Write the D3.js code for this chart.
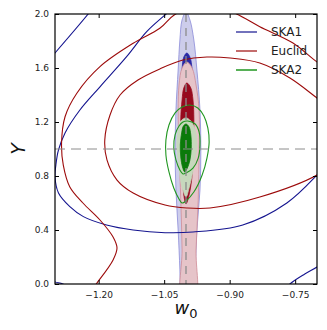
<!DOCTYPE html>
<html>
<head>
<meta charset="utf-8">
<script src="https://cdn.jsdelivr.net/npm/d3@7"></script>
<style>
  body { margin: 0; background: #fff; }
  svg text { font-family: "DejaVu Sans", sans-serif; }
</style>
</head>
<body>
<div id="chart"></div>
<script>
// Axis ticks
var xTicks = [-1.20, -1.05, -0.90, -0.75];
var yTicks = [0.0, 0.4, 0.8, 1.2, 1.6, 2.0];

// Reference lines
var w0Fid = -1.0;
var yFid = 1.0;

// Legend
var legendLabels = ["SKA1", "Euclid", "SKA2"];

// Filled contours, [w0, Y] points
var ska1Outer = [[-1.0, 2.015], [-0.991, 1.956], [-0.982, 1.807], [-0.975, 1.585], [-0.968, 1.289], [-0.966, 0.993],
    [-0.968, 0.696], [-0.975, 0.4], [-0.979, 0.104], [-0.984, -0.119], [-0.998, -0.34], [-1.012, -0.119],
    [-1.014, 0.104], [-1.018, 0.4], [-1.023, 0.696], [-1.025, 0.993], [-1.023, 1.289], [-1.018, 1.585],
    [-1.014, 1.807], [-1.009, 1.956]];
var ska1Inner = [[-0.998, 1.711], [-0.991, 1.681], [-0.986, 1.585], [-0.984, 1.215], [-0.986, 0.77], [-0.995, 0.4],
    [-1.005, 0.77], [-1.009, 1.215], [-1.009, 1.585], [-1.005, 1.681]];
var euclidOuter = [[-0.998, 1.644], [-0.986, 1.6], [-0.977, 1.474], [-0.970, 1.289], [-0.970, 0.993], [-0.972, 0.622],
    [-0.977, 0.252], [-0.979, -0.119], [-1.009, -0.119], [-1.009, 0.252], [-1.012, 0.622], [-1.016, 0.993],
    [-1.018, 1.289], [-1.016, 1.474], [-1.009, 1.6]];
var euclidInner = [[-0.998, 1.489], [-0.989, 1.452], [-0.984, 1.363], [-0.982, 1.215], [-0.984, 0.993], [-0.986, 0.807],
    [-0.993, 0.659], [-1.0, 0.593], [-1.005, 0.659], [-1.007, 0.807], [-1.009, 0.993], [-1.012, 1.215],
    [-1.009, 1.363], [-1.005, 1.452]];
var ska2Outer = [[-1.0, 1.230], [-0.989, 1.207], [-0.979, 1.141], [-0.975, 1.030], [-0.979, 0.919], [-0.986, 0.807],
    [-0.993, 0.711], [-1.0, 0.644], [-1.007, 0.696], [-1.014, 0.8], [-1.018, 0.919], [-1.021, 1.030],
    [-1.018, 1.141], [-1.012, 1.207]];
var ska2Inner = [[-1.0, 1.185], [-0.993, 1.163], [-0.989, 1.104], [-0.988, 1.007], [-0.991, 0.919], [-0.997, 0.859],
    [-1.003, 0.830], [-1.008, 0.867], [-1.012, 0.941], [-1.013, 1.030], [-1.010, 1.119], [-1.006, 1.170]];

// Line contours
var ska1Line1 = [[-1.025, 2.059], [-1.048, 1.993], [-1.09, 1.869], [-1.136, 1.684], [-1.197, 1.461], [-1.243, 1.289],
    [-1.277, 1.119], [-1.292, 0.993], [-1.298, 0.881], [-1.30, 0.795], [-1.292, 0.674], [-1.266, 0.573],
    [-1.235, 0.499], [-1.182, 0.437], [-1.121, 0.40], [-1.048, 0.380], [-0.984, 0.385], [-0.870, 0.437],
    [-0.769, 0.60], [-0.70, 0.807], [-0.670, 0.919]];
var ska1Line2a = [[-1.208, 2.067], [-1.224, 2.0], [-1.30, 1.711], [-1.316, 1.652]];
var ska1Line2b = [[-1.323, 0.044], [-1.30, 0.015], [-1.282, 0.0], [-1.261, -0.044]];
var ska1Line2c = [[-0.785, -0.081], [-0.762, 0.0], [-0.728, 0.074], [-0.70, 0.126], [-0.670, 0.193]];
var euclidLine1 = [[-0.670, 0.881], [-0.70, 0.807], [-0.831, 0.644], [-0.945, 0.563], [-0.998, 0.563], [-1.048, 0.585],
    [-1.121, 0.674], [-1.158, 0.770], [-1.181, 0.919], [-1.186, 1.067], [-1.174, 1.252], [-1.151, 1.4],
    [-1.11, 1.511], [-1.060, 1.593], [-1.007, 1.659], [-0.952, 1.681], [-0.899, 1.674], [-0.831, 1.637],
    [-0.762, 1.526], [-0.70, 1.378], [-0.670, 1.304]];
var euclidLine2 = [[-1.220, -0.059], [-1.204, 0.007], [-1.167, 0.178], [-1.158, 0.267], [-1.167, 0.348], [-1.197, 0.474],
    [-1.236, 0.6], [-1.266, 0.719], [-1.281, 0.881], [-1.285, 1.042], [-1.277, 1.239], [-1.250, 1.413],
    [-1.197, 1.61], [-1.121, 1.783], [-1.060, 1.894], [-1.027, 1.993], [-0.952, 2.089], [-0.884, 2.0],
    [-0.831, 1.906], [-0.755, 1.785], [-0.701, 1.647], [-0.670, 1.585]];
var ska2Line1 = [[-0.996, 1.207], [-0.979, 1.185], [-0.970, 1.126], [-0.968, 1.030], [-0.972, 0.933], [-0.984, 0.859],
    [-1.0, 0.822], [-1.007, 0.815], [-1.014, 0.844], [-1.023, 0.919], [-1.028, 1.007], [-1.025, 1.104],
    [-1.016, 1.170], [-1.007, 1.2]];
var ska2Line2 = [[-0.991, 1.326], [-0.973, 1.304], [-0.959, 1.244], [-0.950, 1.156], [-0.947, 1.052], [-0.952, 0.933],
    [-0.963, 0.807], [-0.982, 0.681], [-1.0, 0.615], [-1.009, 0.6], [-1.016, 0.630], [-1.028, 0.711],
    [-1.039, 0.830], [-1.046, 0.956], [-1.046, 1.067], [-1.039, 1.178], [-1.025, 1.267], [-1.009, 1.311]];

var svgWidth = 327;
var svgHeight = 330;
var margin = { top: 14, right: 10, bottom: 46, left: 55 };
var width = svgWidth - margin.left - margin.right;
var height = svgHeight - margin.top - margin.bottom;

var blue = "#14148f", red = "#9c0a0a", green = "#1f961f";

var svg = d3.select("#chart").append("svg")
    .attr("width", svgWidth)
    .attr("height", svgHeight);

var chartGroup = svg.append("g")
    .attr("transform", `translate(${margin.left}, ${margin.top})`);

var xScale = d3.scaleLinear().domain([-1.3, -0.7]).range([0, width]);
var yScale = d3.scaleLinear().domain([0, 2]).range([height, 0]);

svg.append("defs").append("clipPath").attr("id", "plotclip")
    .append("rect").attr("width", width).attr("height", height);

var plot = chartGroup.append("g").attr("clip-path", "url(#plotclip)");

var closedPath = d3.line().x(d => xScale(d[0])).y(d => yScale(d[1])).curve(d3.curveCatmullRomClosed.alpha(0.5));
var openPath = d3.line().x(d => xScale(d[0])).y(d => yScale(d[1])).curve(d3.curveCatmullRom.alpha(0.5));

// filled regions
var fills = [
    [ska1Outer, "#cdcdeb", "#8a8ad8"],
    [ska1Inner, "#2a2aa6", "#2a2aa6"],
    [euclidOuter, "#e6c4c9", "#cf8c95"],
    [euclidInner, "#970a1e", "#970a1e"],
    [ska2Outer, "#c6d8bc", "#c6d8bc"],
    [ska2Inner, "#0a7a0a", "#0a7a0a"]
];
fills.forEach(f => {
    plot.append("path")
        .attr("d", closedPath(f[0]))
        .attr("fill", f[1])
        .attr("stroke", f[2])
        .attr("stroke-width", 0.8);
});

// line contours
[[ska1Line1, blue], [ska1Line2a, blue], [ska1Line2b, blue], [ska1Line2c, blue],
 [euclidLine1, red], [euclidLine2, red]].forEach(l => {
    plot.append("path")
        .attr("d", openPath(l[0]))
        .attr("fill", "none")
        .attr("stroke", l[1])
        .attr("stroke-width", 1.1);
});
[ska2Line1, ska2Line2].forEach(l => {
    plot.append("path")
        .attr("d", closedPath(l))
        .attr("fill", "none")
        .attr("stroke", green)
        .attr("stroke-width", 1.1);
});

// fiducial dashed lines
plot.append("line")
    .attr("x1", 0).attr("x2", width)
    .attr("y1", yScale(yFid)).attr("y2", yScale(yFid))
    .attr("stroke", "#8c8c8c").attr("stroke-width", 1)
    .attr("stroke-dasharray", "10,6");
plot.append("line")
    .attr("x1", xScale(w0Fid)).attr("x2", xScale(w0Fid))
    .attr("y1", 0).attr("y2", height)
    .attr("stroke", "#8c8c8c").attr("stroke-width", 1.3)
    .attr("stroke-dasharray", "8,6");

// axes
var bottomAxis = d3.axisBottom(xScale).tickValues(xTicks).tickSizeInner(-4).tickSizeOuter(0)
    .tickPadding(8).tickFormat(d3.format(".2f"));
var leftAxis = d3.axisLeft(yScale).tickValues(yTicks).tickSizeInner(-4).tickSizeOuter(0)
    .tickPadding(6).tickFormat(d3.format(".1f"));
var topAxis = d3.axisTop(xScale).tickValues(xTicks).tickSizeInner(-4).tickSizeOuter(0).tickFormat("");
var rightAxis = d3.axisRight(yScale).tickValues(yTicks).tickSizeInner(-4).tickSizeOuter(0).tickFormat("");

var gx = chartGroup.append("g").attr("transform", `translate(0, ${height})`).call(bottomAxis);
var gy = chartGroup.append("g").call(leftAxis);
var gt = chartGroup.append("g").call(topAxis);
var gr = chartGroup.append("g").attr("transform", `translate(${width}, 0)`).call(rightAxis);

[gx, gy, gt, gr].forEach(g => {
    g.select(".domain").remove();
    g.selectAll(".tick line").attr("stroke", "#000");
    g.selectAll("text").attr("font-size", 9).attr("fill", "#222")
        .attr("font-family", "DejaVu Sans, sans-serif");
});

chartGroup.append("rect")
    .attr("width", width).attr("height", height)
    .attr("fill", "none").attr("stroke", "#000").attr("stroke-width", 1.2);

// axis labels
var xLabel = svg.append("text")
    .attr("x", margin.left + width / 2)
    .attr("y", 314)
    .attr("text-anchor", "middle")
    .attr("font-size", 18)
    .attr("font-style", "italic")
    .attr("fill", "#111");
xLabel.append("tspan").text("w");
xLabel.append("tspan").attr("font-size", 13).attr("font-style", "normal").attr("dy", 4).text("0");

svg.append("text")
    .attr("transform", `translate(25, ${margin.top + height / 2}) rotate(-90)`)
    .attr("text-anchor", "middle")
    .attr("font-size", 19)
    .attr("font-style", "italic")
    .attr("fill", "#111")
    .text("Y");

// legend
var legendColors = [blue, red, "#45a845"];
var legend = svg.append("g").attr("transform", "translate(236, 32)");
legendLabels.forEach((lab, i) => {
    legend.append("line")
        .attr("x1", 0).attr("x2", 21)
        .attr("y1", i * 19).attr("y2", i * 19)
        .attr("stroke", legendColors[i])
        .attr("stroke-width", i == 2 ? 1.8 : 1.2);
    legend.append("text")
        .attr("x", 35).attr("y", i * 19)
        .attr("dy", "0.36em")
        .attr("font-size", 12)
        .attr("fill", "#222")
        .text(lab);
});
</script>
</body>
</html>
